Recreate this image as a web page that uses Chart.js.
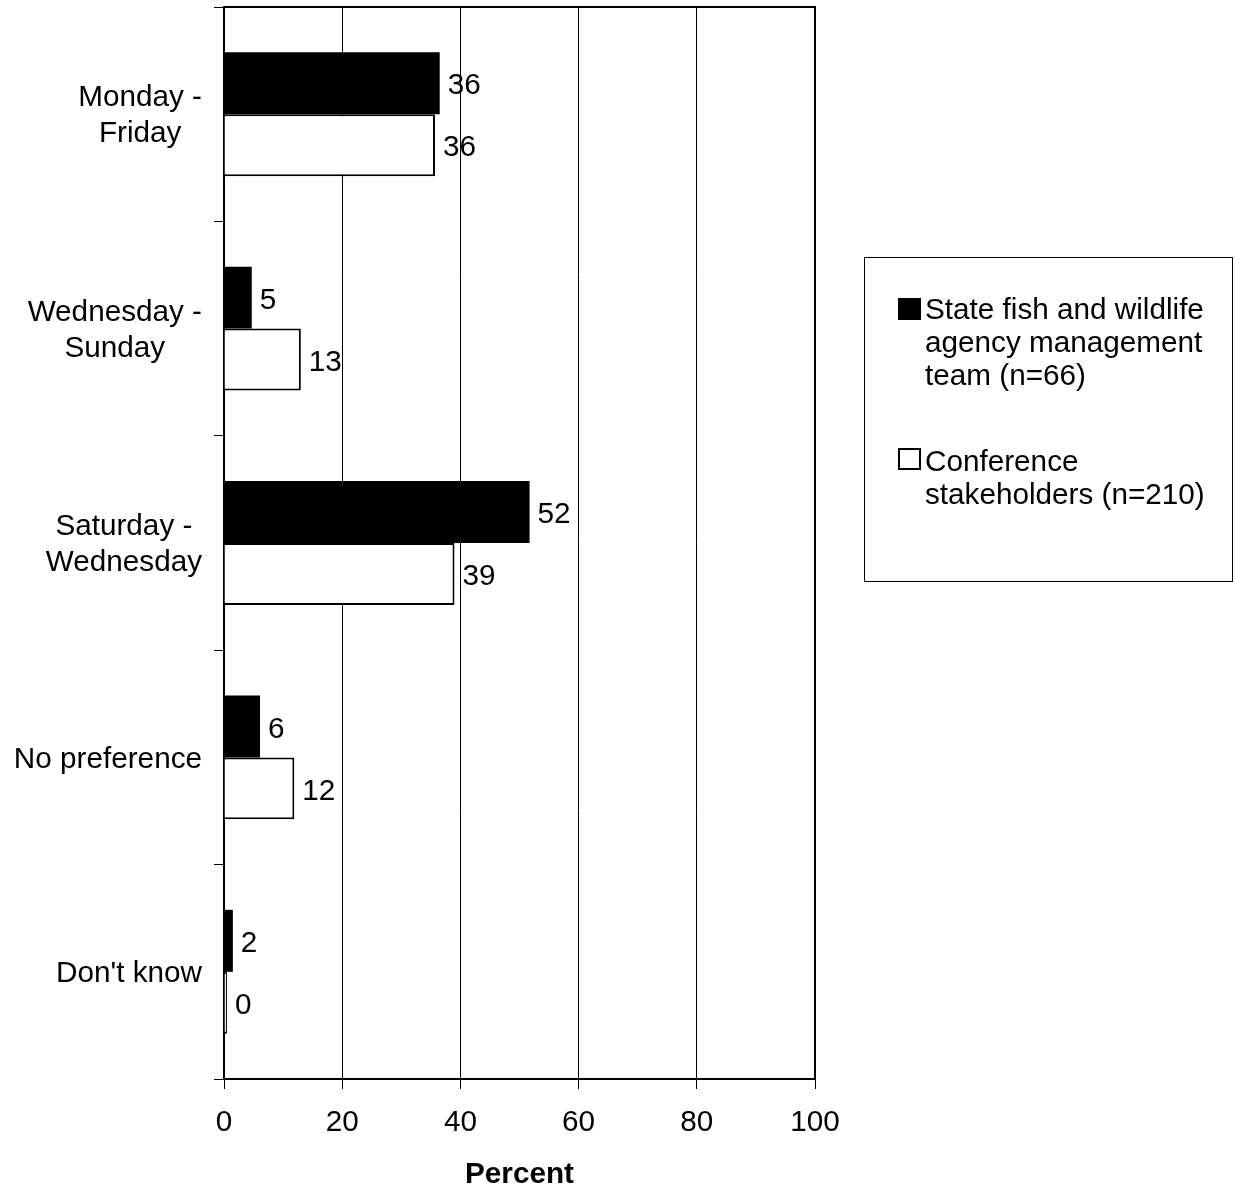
<!DOCTYPE html>
<html>
<head>
<meta charset="utf-8">
<script src="https://cdn.jsdelivr.net/npm/chart.js@4"></script>
<style>
  body { margin: 0; background: #fff; }
  #wrap { position: relative; width: 1235px; height: 1185px; }
  #chart { position: absolute; left: 0; top: 0; }
  #legend {
    position: absolute; left: 864px; top: 257px; width: 367px; height: 323px;
    border: 1px solid #000; font-family: "Liberation Sans", Arial, sans-serif;
    font-size: 29.7px; line-height: 33px; color: #000;
  }
  .item { position: absolute; left: 60px; white-space: nowrap; }
  .box { position: absolute; left: 33px; width: 23px; height: 22px; box-sizing: border-box; }
</style>
</head>
<body>
<div id="wrap">
  <canvas id="chart" width="1235" height="1185"></canvas>
  <div id="legend"></div>
</div>
<script>
// categorias (linhas do rótulo)
const categories = [['Monday -', 'Friday'], ['Wednesday -', 'Sunday'], ['Saturday -', 'Wednesday'], ['No preference'], ["Don't know"]];
// valores
const stateTeam = [36.5, 4.7, 51.7, 6.1, 1.5];
const stakeholders = [35.7, 13.0, 39.0, 11.9, 0.5];
// rótulos impressos nas barras
const stateTeamLabels = ['36', '5', '52', '6', '2'];
const stakeholderLabels = ['36', '13', '39', '12', '0'];
const seriesNames = [['State fish and wildlife', 'agency management', 'team (n=66)'], ['Conference', 'stakeholders (n=210)']];
const xTicks = [0, 20, 40, 60, 80, 100];

const FONT = '"Liberation Sans", Arial, sans-serif';
const FS = 29.7;
Chart.defaults.font.family = FONT;
Chart.defaults.color = '#000';

// Moldura da área do gráfico
const framePlugin = {
    id: 'frame',
    beforeDatasetsDraw(chart) {
        const { ctx, chartArea: a } = chart;
        ctx.save();
        ctx.strokeStyle = '#000';
        ctx.lineWidth = 2;
        ctx.strokeRect(a.left, a.top, a.right - a.left, a.bottom - a.top);
        ctx.restore();
    }
};

// Rótulos das categorias (cada bloco alinhado à direita, linhas centralizadas)
const categoryLabelPlugin = {
    id: 'categoryLabels',
    afterDraw(chart) {
        const { ctx } = chart;
        const y = chart.scales.y;
        ctx.save();
        ctx.font = FS + 'px ' + FONT;
        ctx.fillStyle = '#000';
        ctx.textAlign = 'center';
        ctx.textBaseline = 'middle';
        categories.forEach((lines, i) => {
            const w = Math.max(...lines.map(l => ctx.measureText(l).width));
            const cx = 202 - w / 2;
            const cy = y.getPixelForValue(i) + 2;
            lines.forEach((l, k) => {
                ctx.fillText(l, cx, cy + (k - (lines.length - 1) / 2) * 36);
            });
        });
        ctx.restore();
    }
};

// Valores ao lado das barras
const valueLabelPlugin = {
    id: 'valueLabels',
    afterDatasetsDraw(chart) {
        const { ctx } = chart;
        const labelSets = [stateTeamLabels, stakeholderLabels];
        ctx.save();
        ctx.font = FS + 'px ' + FONT;
        ctx.fillStyle = '#000';
        ctx.textAlign = 'left';
        ctx.textBaseline = 'middle';
        chart.data.datasets.forEach((ds, d) => {
            chart.getDatasetMeta(d).data.forEach((bar, i) => {
                ctx.fillText(labelSets[d][i], bar.x + 8, bar.y + 3);
            });
        });
        ctx.restore();
    }
};

new Chart(document.getElementById('chart'), {
    type: 'bar',
    data: {
        labels: categories.map(c => c.join(' ')),
        datasets: [{
            label: seriesNames[0].join(' '),
            data: stateTeam,
            backgroundColor: '#000',
            borderWidth: 0,
            categoryPercentage: 0.578,
            barPercentage: 1
        }, {
            label: seriesNames[1].join(' '),
            data: stakeholders,
            backgroundColor: '#fff',
            borderColor: '#000',
            borderWidth: 2,
            categoryPercentage: 0.578,
            barPercentage: 1
        }]
    },
    options: {
        indexAxis: 'y',
        responsive: false,
        animation: false,
        devicePixelRatio: 1,
        layout: { padding: { top: 7, right: 420, bottom: 0, left: 0 } },
        plugins: { legend: { display: false }, tooltip: { enabled: false } },
        scales: {
            x: {
                min: 0,
                max: 100,
                afterBuildTicks: s => { s.ticks = xTicks.map(v => ({ value: v })); },
                afterFit: s => { s.height = 106; },
                ticks: { font: { size: FS }, color: '#000', padding: 16, maxRotation: 0 },
                grid: { color: '#000', lineWidth: 1, tickLength: 10, drawTicks: true },
                border: { color: '#000', width: 2 },
                title: { display: true, text: 'Percent', font: { size: FS, weight: 'bold' }, color: '#000', padding: { top: 0, bottom: -8 } }
            },
            y: {
                afterFit: s => { s.width = 224; },
                ticks: { display: false },
                grid: { offset: true, drawOnChartArea: false, color: '#000', tickLength: 10 },
                border: { color: '#000', width: 2 }
            }
        }
    },
    plugins: [framePlugin, categoryLabelPlugin, valueLabelPlugin]
});

// Legenda em HTML
const legend = document.getElementById('legend');
const legendTops = [34, 186];
const boxTops = [40, 190];
seriesNames.forEach((lines, i) => {
    const box = document.createElement('div');
    box.className = 'box';
    box.style.top = boxTops[i] + 'px';
    box.style.background = i === 0 ? '#000' : '#fff';
    box.style.border = '2px solid #000';
    legend.appendChild(box);
    const item = document.createElement('div');
    item.className = 'item';
    item.style.top = legendTops[i] + 'px';
    item.innerHTML = lines.join('<br>');
    legend.appendChild(item);
});
</script>
</body>
</html>
